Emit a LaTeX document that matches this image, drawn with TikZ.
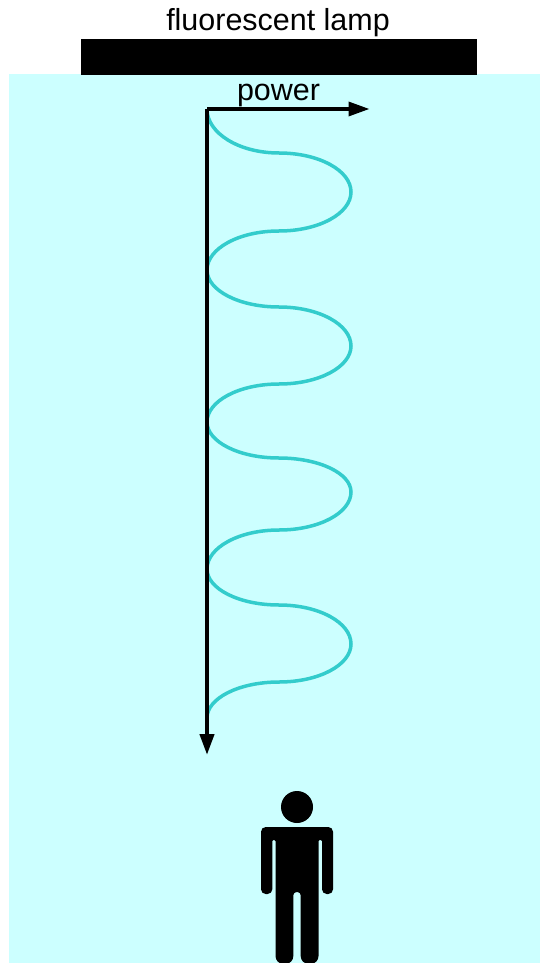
\documentclass[tikz,border=0pt]{standalone}
\usepackage{fontspec}
\setmainfont{Liberation Sans}
\usetikzlibrary{arrows.meta}
\definecolor{roomcyan}{HTML}{CCFFFF}
\definecolor{wavecyan}{HTML}{33CCCC}

\begin{document}
\begin{tikzpicture}[x=0.03cm,y=-0.03cm,
  axisarrow/.style={-{Stealth[length=0.63cm, width=0.42cm, inset=0pt]}, black},
  labeltext/.style={font=\fontsize{26}{30}\selectfont, anchor=base, inner sep=0pt}]
\def\xAxis{207}
\def\xMid{279}
\def\xPeak{351}

\clip (0,0) rectangle (540,963);

\fill[roomcyan] (9,74) rectangle (540,963);
\fill[black] (81,39) rectangle (477,75);

\coordinate (O) at (\xAxis,109);
\coordinate (PowerEnd) at (369.5,109);
\coordinate (DepthEnd) at (\xAxis,755);

% one lobe per entry
\foreach \yStart/\yA/\yPeak/\yB/\yEnd in {109/153/192/231/270, 270/307/346/384/422, 422/458/492/530/569, 569/605/644/682/718}
  \draw[wavecyan, line width=0.105cm]
    (\xAxis,\yStart) .. controls (\xAxis,{\yStart+0.55*(\yA-\yStart)}) and (239,\yA) .. (\xMid,\yA)
    .. controls (319,\yA) and (\xPeak,{\yPeak-0.55*(\yPeak-\yA)}) .. (\xPeak,\yPeak)
    .. controls (\xPeak,{\yPeak+0.55*(\yB-\yPeak)}) and (319,\yB) .. (\xMid,\yB)
    .. controls (239,\yB) and (\xAxis,{\yEnd-0.55*(\yEnd-\yB)}) .. (\xAxis,\yEnd);

\draw[axisarrow, line width=0.1cm] (O) -- (PowerEnd);
\draw[axisarrow, line width=0.125cm] (O) -- (DepthEnd);

\node[labeltext] (lamplabel) at (278,31) {fluorescent lamp};
\node[labeltext] (powerlabel) at (278.5,101) {power};

% person
\fill[black] (297,807) circle (16);
\fill[black, rounded corners=4pt]
  (261,827) -- (333,827) -- (333,894) -- (322,894)
  [rounded corners=1pt] -- (322,840) -- (318.5,840)
  [rounded corners=6.8pt] -- (318.5,964) -- (300.7,964)
  [rounded corners=2.8pt] -- (300.7,892) -- (293.3,892)
  [rounded corners=6.8pt] -- (293.3,964) -- (275.5,964)
  [rounded corners=1pt] -- (275.5,840) -- (272.3,840)
  [rounded corners=4pt] -- (272.3,894) -- (261,894) -- cycle;
\end{tikzpicture}
\end{document}
